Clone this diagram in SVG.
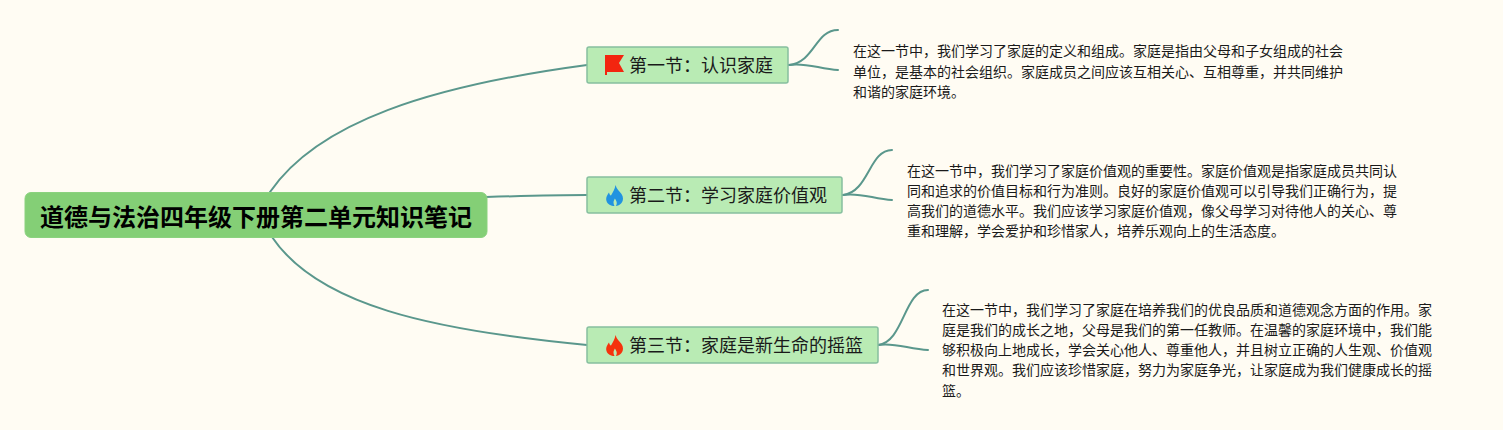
<svg xmlns="http://www.w3.org/2000/svg" width="1503" height="430" viewBox="0 0 1503 430">
<defs>
<path id="flame" d="M9.5 0C10.5 4 13.5 6 15.5 9C17.5 12 17.5 15.5 15.5 18C14 20 11.500 21 9.800 21C10.800 19.500 11 18 10.500 16.500C10 15.300 9.300 14.300 8.900 13.500C8.200 14.800 7.500 16 7.500 17.500C7.500 18.800 7.800 20 8.500 21C5 21 1.500 19.500 0.500 16C-0.500 12.500 1.500 9.500 3 7.500C3.300 9 4 10.300 5 10.500C6.500 8 9 4 9.500 0Z"/>
</defs>
<style>
.c{fill:none;stroke:#5a978c;stroke-width:2;stroke-linecap:round}
.t{fill:#b9ebb4;stroke:#87bf9f;stroke-width:1.5}
text{font-family:"Liberation Sans","Noto Sans CJK SC",sans-serif;fill:#1a1a1a}
.r{font-size:24px;font-weight:700;fill:#000}
.l{font-size:18px}
.b{font-size:14px}
</style>
<rect width="1503" height="430" fill="#fffcf3"/>
<g id="connectors">
<path class="c" d="M270 192C318 122 430 86 587 65"/>
<path class="c" d="M486 197C520 196 555 195 587 195"/>
<path class="c" d="M272 237C318 305 430 330 587 345"/>
<path class="c" d="M789 65C815 62 815 30 838 30"/>
<path class="c" d="M789 65C805 62 820 69 838 70"/>
<path class="c" d="M843 195C869 192 869 150 892 150"/>
<path class="c" d="M843 195C859 192 874 199 892 200"/>
<path class="c" d="M878 345C904 342 904 290 928 290"/>
<path class="c" d="M878 345C894 342 909 349 928 350"/>
</g>
<g id="root">
<rect x="25" y="192.500" width="462" height="45" rx="6" fill="#84cf76" stroke="#8bd27f"/>
<text class="r" x="40" y="226">道德与法治四年级下册第二单元知识笔记</text>
</g>
<g id="topic1">
<rect class="t" x="587" y="47" width="201" height="36" rx="2"/>
<path d="M605 55H624L619 63L624 72H607V75H605Z" fill="#f3250f"/>
<text class="l" x="629" y="72">第一节：认识家庭</text>
</g>
<g id="topic2">
<rect class="t" x="587" y="177" width="255" height="36" rx="2"/>
<use href="#flame" x="606" y="185" fill="#2193e0"/>
<text class="l" x="629" y="202">第二节：学习家庭价值观</text>
</g>
<g id="topic3">
<rect class="t" x="587" y="327" width="291" height="36" rx="2"/>
<use href="#flame" x="606" y="335" fill="#f5320d"/>
<text class="l" x="629" y="352">第三节：家庭是新生命的摇篮</text>
</g>
<g id="note1">
<text class="b" x="853" y="56">在这一节中，我们学习了家庭的定义和组成。家庭是指由父母和子女组成的社会</text>
<text class="b" x="853" y="76.500">单位，是基本的社会组织。家庭成员之间应该互相关心、互相尊重，并共同维护</text>
<text class="b" x="853" y="96.500">和谐的家庭环境。</text>
</g>
<g id="note2">
<text class="b" x="907" y="176">在这一节中，我们学习了家庭价值观的重要性。家庭价值观是指家庭成员共同认</text>
<text class="b" x="907" y="196">同和追求的价值目标和行为准则。良好的家庭价值观可以引导我们正确行为，提</text>
<text class="b" x="907" y="216">高我们的道德水平。我们应该学习家庭价值观，像父母学习对待他人的关心、尊</text>
<text class="b" x="907" y="236">重和理解，学会爱护和珍惜家人，培养乐观向上的生活态度。</text>
</g>
<g id="note3">
<text class="b" x="942" y="315">在这一节中，我们学习了家庭在培养我们的优良品质和道德观念方面的作用。家</text>
<text class="b" x="942" y="335">庭是我们的成长之地，父母是我们的第一任教师。在温馨的家庭环境中，我们能</text>
<text class="b" x="942" y="355">够积极向上地成长，学会关心他人、尊重他人，并且树立正确的人生观、价值观</text>
<text class="b" x="942" y="375">和世界观。我们应该珍惜家庭，努力为家庭争光，让家庭成为我们健康成长的摇</text>
<text class="b" x="942" y="396">篮。</text>
</g>
</svg>
